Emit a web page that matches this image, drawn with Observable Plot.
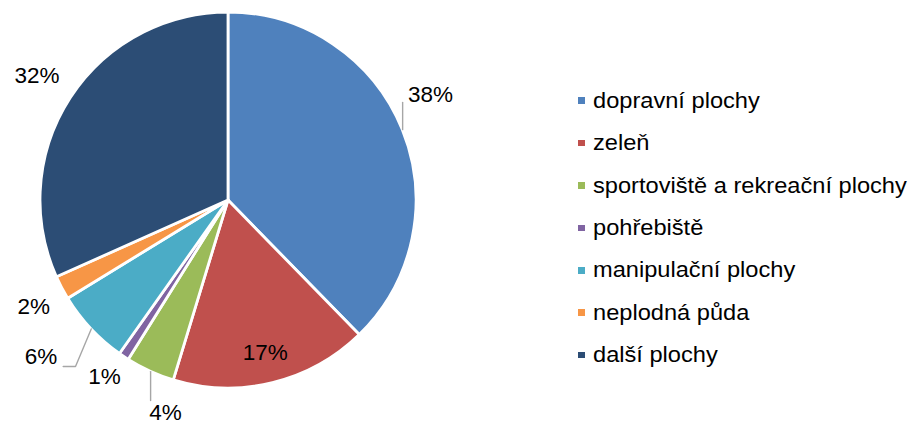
<!DOCTYPE html>
<html>
<head>
<meta charset="utf-8">
<script src="https://cdn.jsdelivr.net/npm/d3@7"></script>
<script src="https://cdn.jsdelivr.net/npm/@observablehq/plot@0.6"></script>
<style>
  body { margin: 0; background: #fff; font-family: "Liberation Sans", Arial, sans-serif; }
  #wrap { position: relative; width: 916px; height: 424px; overflow: hidden; }
  #legend { position: absolute; left: 578.4px; top: 79.6px; }
  .row { height: 42.4px; display: flex; align-items: center; font-size: 22.4px; color: #000; white-space: nowrap; }
  .sw { width: 6.6px; height: 6.6px; margin-right: 8.4px; flex: none; }
  .lbl { display: inline-block; transform: scaleX(1.055); transform-origin: left center; }
</style>
</head>
<body>
<div id="wrap"></div>
<script>
// ---- data ----
const categories = ["dopravní plochy", "zeleň", "sportoviště a rekreační plochy", "pohřebiště", "manipulační plochy", "neplodná půda", "další plochy"];
const shares = [37.7, 17.0, 4.2, 0.9, 6.45, 2.05, 31.7];
const colors = ["#4F81BD", "#C0504D", "#9BBB59", "#8064A2", "#4BACC6", "#F79646", "#2C4D75"];
const labelTexts = ["38%", "17%", "4%", "1%", "6%", "2%", "32%"];
// label anchor positions in pie units (radius = 1, y up)
const labelX = [1.0745, 0.1952, -0.3351, -0.6596, -0.9973, -1.0356, -1.0186];
const labelY = [0.5638, -0.8112, -1.1300, -0.9362, -0.8335, -0.5665, 0.6649];
// leader line bends (pie units); null x = keep the x of the slice edge point
const leaderSlices = [0, 2, 4];
const leaderBends = [[[null, 0.5213]], [[null, -1.0638]], [[-0.8138, -0.8830], [-0.8793, -0.8830]]];

// ---- geometry from data ----
const arcs = d3.pie().sort(null).value(d => d)(shares);
const rows = categories.map((c, i) => ({
  category: c, share: shares[i], color: colors[i], label: labelTexts[i],
  lx: labelX[i], ly: labelY[i], arc: arcs[i]
}));

const leaderPts = [];
leaderSlices.forEach((si, k) => {
  const a = (arcs[si].startAngle + arcs[si].endAngle) / 2;
  const sx = Math.sin(a), sy = Math.cos(a);
  leaderPts.push({k, x: sx, y: sy});
  leaderBends[k].forEach(([bx, by]) => leaderPts.push({k, x: bx == null ? sx : bx, y: by}));
});

function pieSlices(index, scales) {
  const cx = scales.x(0), cy = scales.y(0);
  const r = scales.x(1) - scales.x(0);
  const arcGen = d3.arc().innerRadius(0).outerRadius(r);
  const g = d3.create("svg:g").attr("transform", `translate(${cx},${cy})`);
  g.selectAll("path").data(rows).join("path")
    .attr("d", d => arcGen(d.arc))
    .attr("fill", d => d.color)
    .attr("stroke", "#fff")
    .attr("stroke-width", 2.8)
    .attr("stroke-linejoin", "round");
  return g.node();
}

const chart = Plot.plot({
  width: 916,
  height: 424,
  margin: 0,
  x: {domain: [-1, 1], range: [40, 416], axis: null},
  y: {domain: [-1, 1], range: [388, 12], axis: null},
  style: {fontFamily: "'Liberation Sans', Arial, sans-serif", background: "#fff"},
  marks: [
    pieSlices,
    Plot.line(leaderPts, {x: "x", y: "y", z: "k", stroke: "#A6A6A6", strokeWidth: 1.4}),
    Plot.text(rows, {x: "lx", y: "ly", text: "label", fontSize: 22.5, fill: "#000", textAnchor: "middle", lineAnchor: "middle"})
  ]
});

const wrap = document.getElementById("wrap");
wrap.appendChild(chart);

const legend = document.createElement("div");
legend.id = "legend";
rows.forEach(d => {
  const row = document.createElement("div");
  row.className = "row";
  const sw = document.createElement("span");
  sw.className = "sw";
  sw.style.background = d.color;
  const t = document.createElement("span");
  t.className = "lbl";
  t.textContent = d.category;
  row.appendChild(sw);
  row.appendChild(t);
  legend.appendChild(row);
});
wrap.appendChild(legend);
</script>
</body>
</html>
